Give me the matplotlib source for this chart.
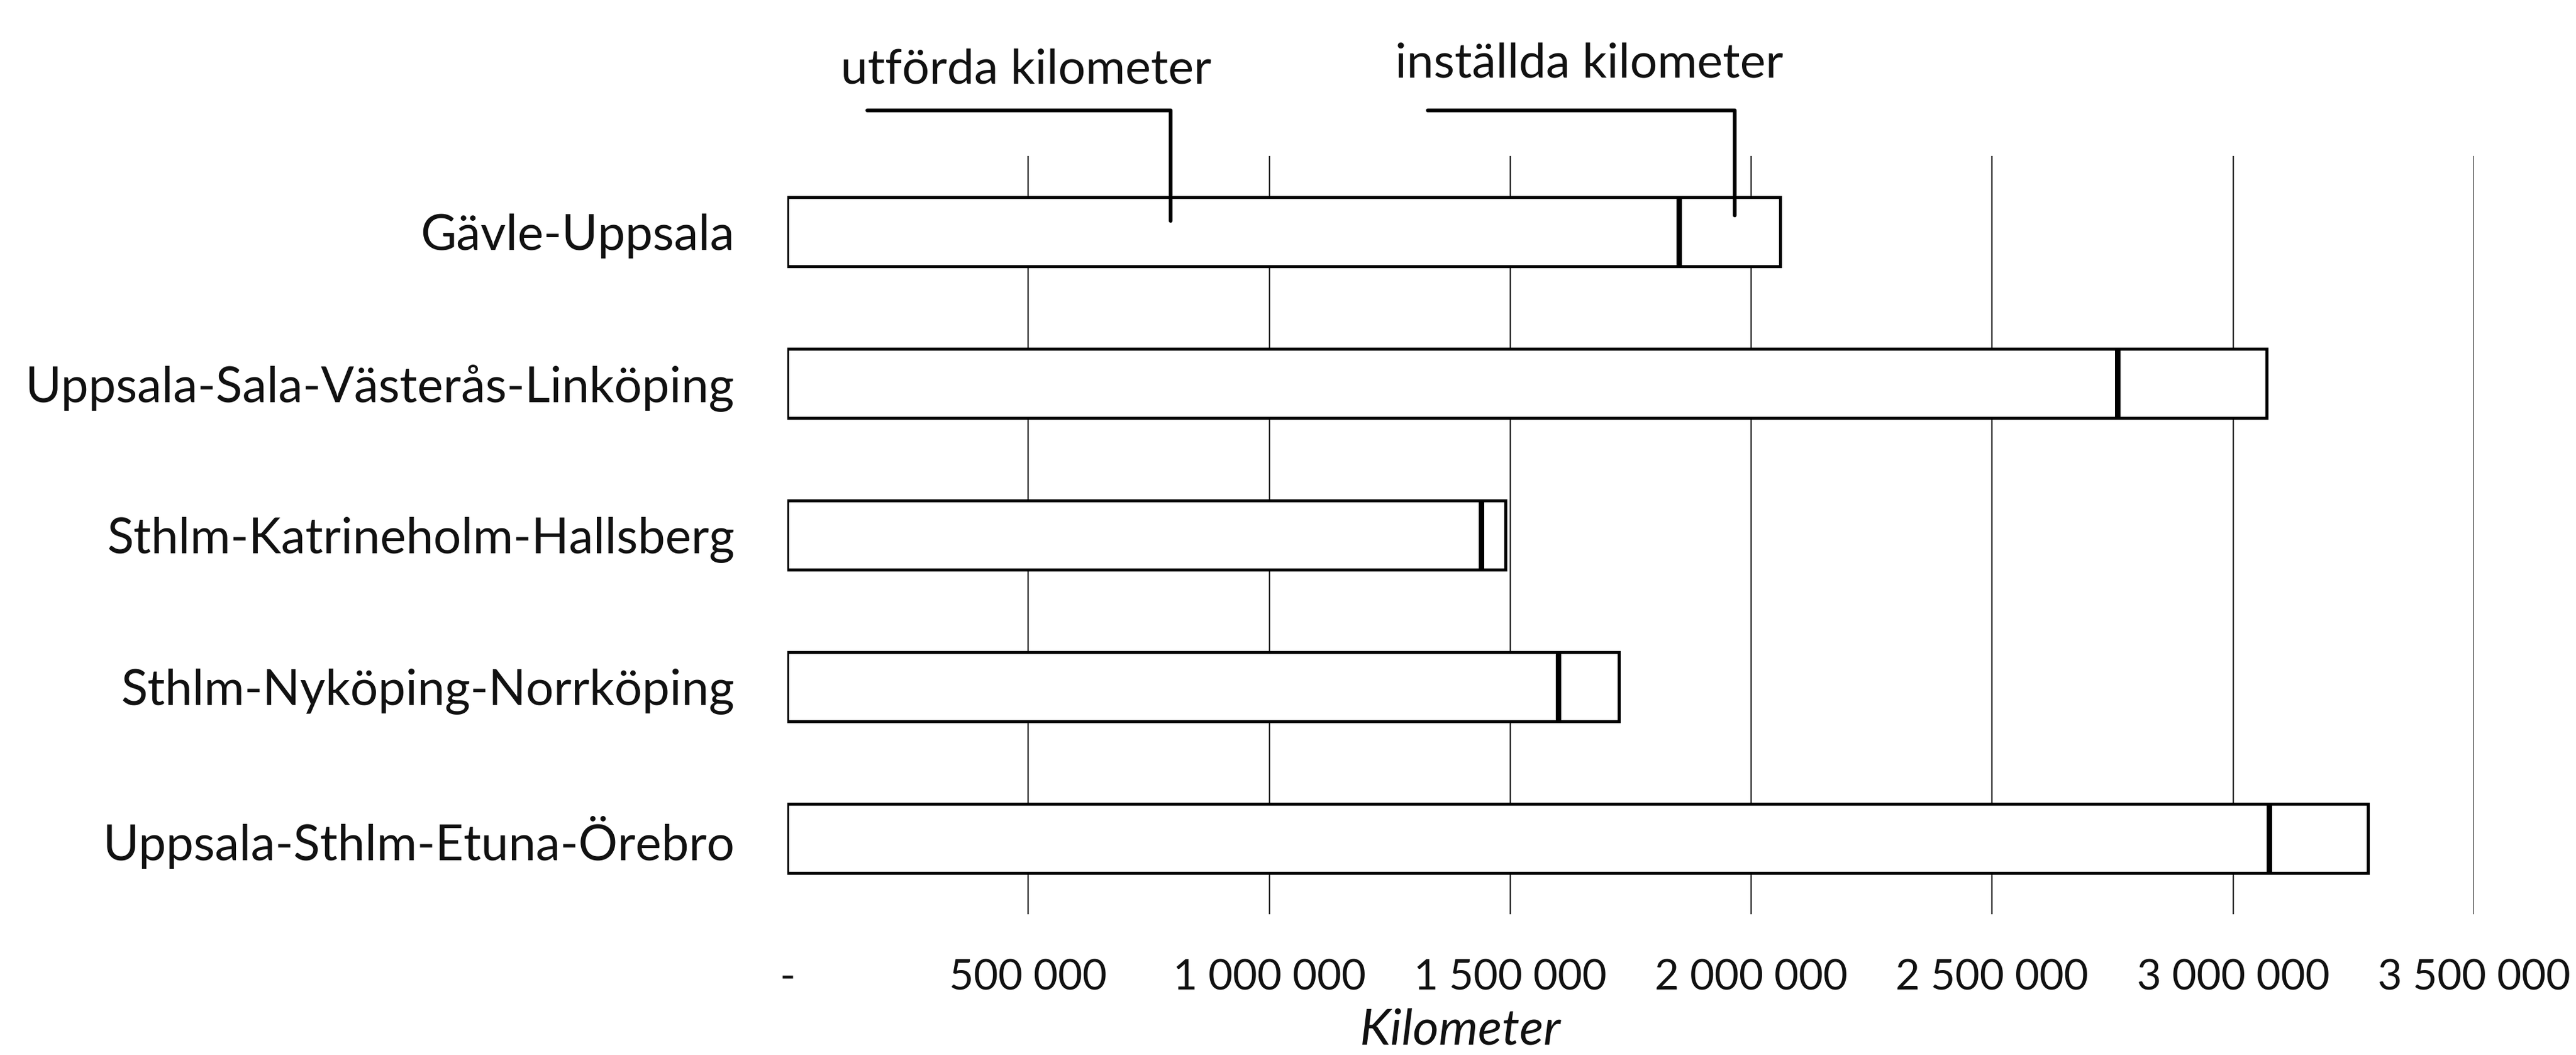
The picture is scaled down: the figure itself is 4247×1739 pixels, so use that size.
import matplotlib
matplotlib.use("Agg")
import matplotlib.pyplot as plt
from matplotlib import font_manager

# ---------------- data ----------------
routes = [
    "Gävle-Uppsala",
    "Uppsala-Sala-Västerås-Linköping",
    "Sthlm-Katrineholm-Hallsberg",
    "Sthlm-Nyköping-Norrköping",
    "Uppsala-Sthlm-Etuna-Örebro",
]
utforda = [1850000, 2760000, 1440000, 1600000, 3075000]
installda = [210000, 310000, 50000, 125000, 205000]
xticks = [0, 500000, 1000000, 1500000, 2000000, 2500000, 3000000, 3500000]
xtick_labels = ["-", "500 000", "1 000 000", "1 500 000", "2 000 000",
                "2 500 000", "3 000 000", "3 500 000"]
label_utf = "utförda kilometer"
label_inst = "inställda kilometer"
xlabel = "Kilometer"

# ---------------- figure ----------------
W, H, DPI = 4247, 1739, 100
FONT = "Lato"
plt.rcParams["font.family"] = [FONT, "DejaVu Sans"]
fig = plt.figure(figsize=(W / DPI, H / DPI), dpi=DPI)
fig.patch.set_facecolor("white")

ax_left, ax_right, ax_top, ax_bot = 1298, 4079, 257, 1507
ax = fig.add_axes([ax_left / W, 1 - ax_bot / H,
                   (ax_right - ax_left) / W, (ax_bot - ax_top) / H])

renderer = fig.canvas.get_renderer()


def fitted_size(s, target_px, base=40, **kw):
    t = fig.text(0, 0, s, fontsize=base, **kw)
    w = t.get_window_extent(renderer).width
    t.remove()
    return base * target_px / w


# italic font availability
it_path = font_manager.findfont(font_manager.FontProperties(family=FONT, style="italic"))
italic_family = [FONT, "DejaVu Sans"] if "italic" in it_path.lower() else ["DejaVu Sans"]

cat_size = fitted_size(max(routes, key=len), 1170)
tick_size = fitted_size("500 000", 259)
ann_size = fitted_size(label_utf, 611)
xl_size = fitted_size(xlabel, 331, style="italic", family=italic_family)

y = list(range(len(routes)))
bar_h = 0.456
ax.barh(y, utforda, height=bar_h, color="white", edgecolor="black",
        linewidth=3.6, zorder=3)
ax.barh(y, installda, left=utforda, height=bar_h, color="white",
        edgecolor="black", linewidth=3.6, zorder=3)
# heavier divider between the two segments, as in the original
ax.vlines(utforda, [v - bar_h / 2 for v in y], [v + bar_h / 2 for v in y],
          colors="black", linewidth=6.5, zorder=4)

# gridlines (none at zero)
for xv in xticks[1:]:
    ax.axvline(xv, color="#2a2a2a", linewidth=1.7, zorder=1)

ax.set_xlim(xticks[0], xticks[-1])
ax.set_ylim(len(routes) - 0.5, -0.5)
for sp in ax.spines.values():
    sp.set_visible(False)

ax.set_yticks(y, routes)
ax.set_xticks(xticks, xtick_labels)
ax.tick_params(axis="y", length=0, pad=(1298 - 1211) * 72 / DPI,
               labelsize=cat_size, labelcolor="#111111")
ax.tick_params(axis="x", length=0, pad=(1631 - 1507) * 72 / DPI,
               labelsize=tick_size, labelcolor="#111111")
plt.setp(ax.get_xticklabels(), va="baseline")
plt.setp(ax.get_yticklabels(), va="center_baseline")

ax.set_xlabel(xlabel, fontsize=xl_size, style="italic", family=italic_family,
              color="#111111")
ax.xaxis.label.set_va("baseline")
ax.xaxis.set_label_coords((2408 - ax_left) / (ax_right - ax_left),
                          (ax_bot - 1722) / (ax_bot - ax_top))

# ---------------- callouts ----------------
line_kw = dict(arrowstyle="-", lw=4.5, color="black",
               connectionstyle="angle,angleA=0,angleB=90,rad=0",
               shrinkA=0, shrinkB=0)
utf_target = (utforda[0] * 0.43, -0.072)
inst_target = (utforda[0] + installda[0] * 0.55, -0.108)
ax.annotate("", xy=utf_target, xytext=(166000, -0.8),
            arrowprops=line_kw, annotation_clip=False, zorder=5)
ax.annotate("", xy=inst_target, xytext=(1329000, -0.8),
            arrowprops=line_kw, annotation_clip=False, zorder=5)

ax.text(495000, -0.98, label_utf, ha="center", va="baseline",
        fontsize=ann_size, clip_on=False, color="#111111")
ax.text(1664000, -1.02, label_inst, ha="center", va="baseline",
        fontsize=ann_size, clip_on=False, color="#111111")

fig.savefig("out.png", dpi=DPI, facecolor="white")
